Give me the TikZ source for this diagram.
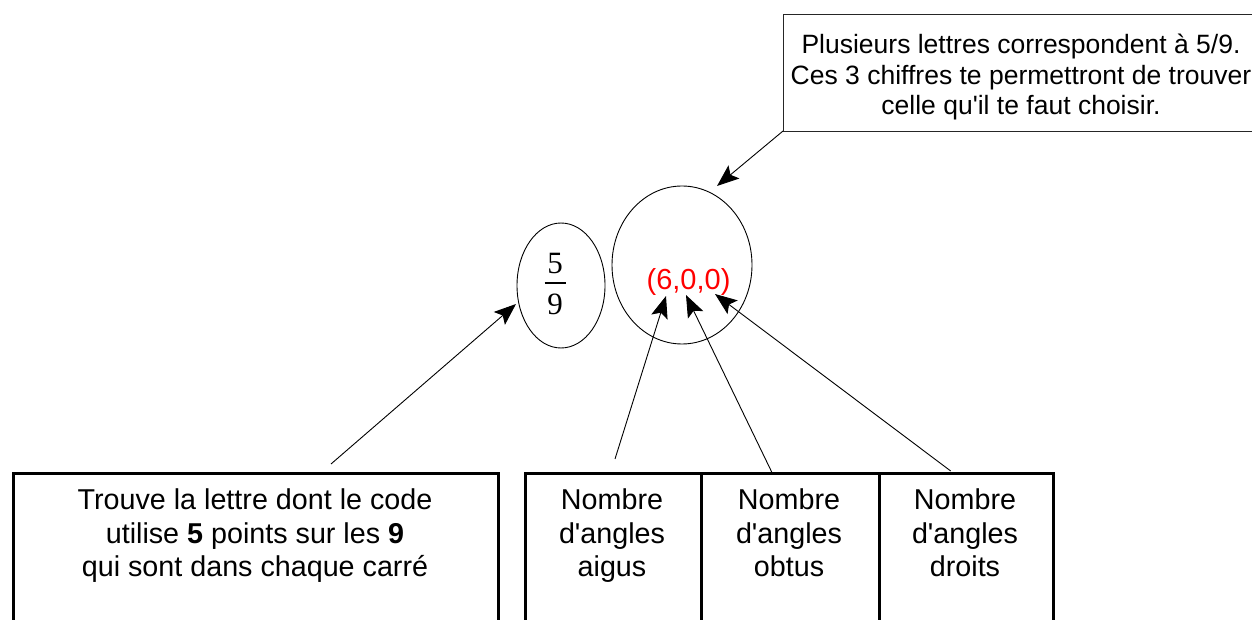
\documentclass[tikz,border=0pt]{standalone}
\usepackage{fontspec}
\setmainfont{Liberation Sans}
\newfontfamily\fracfont{Liberation Serif}
\usetikzlibrary{arrows.meta,calc}
\newcommand{\apo}{\textquotesingle}
\begin{document}
\begin{tikzpicture}[x=1pt,y=1pt,
  arr/.style={line width=0.9pt,-{Stealth[length=22pt,width=17pt,inset=4.5pt]}},
  thickbox/.style={draw,line width=3pt,inner sep=0,anchor=north west,minimum height=200pt},
  thinbox/.style={draw=black!85,line width=1pt,inner sep=0,anchor=north west},
  lbl/.style={align=center,inner sep=0,anchor=north,font=\fontsize{28.7}{33.5}\selectfont},
  toplbl/.style={align=center,inner sep=0,anchor=north,font=\fontsize{26.5}{30.5}\selectfont},
  digit/.style={inner sep=0,anchor=base,font=\fracfont\fontsize{31}{36}\selectfont},
]
\useasboundingbox (0,0) rectangle (1252,619);
\clip (0,0) rectangle (1252,619);

% top box
\node[thinbox,minimum width=476pt,minimum height=117pt] (topbox) at (783,605) {};
\node[toplbl] (toptext) at (1021,585) {Plusieurs lettres correspondent à 5/9.\\Ces 3 chiffres te permettront de trouver\\celle qu\apo il te faut choisir.};

% ellipses
\draw[line width=0.9pt] (561,333.5) ellipse [x radius=44, y radius=62.5];
\draw[line width=0.9pt] (682,354) ellipse [x radius=70, y radius=79];

% fraction
\node[digit] (num) at (555,345) {5};
\node[digit] (den) at (555,304) {9};
\draw[line width=2.2pt] ($(num.base)+(-10.5,-9)$) -- ($(num.base)+(10.5,-9)$);

% red triple
\node[inner sep=0,anchor=base,text=red,font=\fontsize{29}{33}\selectfont] (triple) at (688.5,329) {(6,0,0)};

% bottom boxes
\node[thickbox,minimum width=485pt] (left) at (12,147) {};
\node[thickbox,minimum width=176pt] (c1) at (524,147) {};
\node[thickbox,minimum width=178pt] (c2) at (700,147) {};
\node[thickbox,minimum width=174pt] (c3) at (878,147) {};

\node[lbl] (lefttext) at (255,130.5) {Trouve la lettre dont le code\\utilise \textbf{5} points sur les \textbf{9}\\qui sont dans chaque carré};
\node[lbl] (t1) at (612,130.5) {Nombre\\d\apo angles\\aigus};
\node[lbl] (t2) at (789,130.5) {Nombre\\d\apo angles\\obtus};
\node[lbl] (t3) at (965,130.5) {Nombre\\d\apo angles\\droits};

% connector ends
\coordinate (sL) at (331,155);
\coordinate (eL) at (516,315);
\coordinate (s1) at (615,160);
\coordinate (e1) at (666,323);
\coordinate (s2) at (771.7,147);
\coordinate (e2) at (686,324);
\coordinate (s3) at (950.7,148);
\coordinate (e3) at (715,325);
\coordinate (sT) at (783,488);
\coordinate (eT) at (717,433);

\draw[arr] (sL) -- (eL);
\draw[arr] (s1) -- (e1);
\draw[arr] (s2) -- (e2);
\draw[arr] (s3) -- (e3);
\draw[arr] (sT) -- (eT);
\end{tikzpicture}
\end{document}
